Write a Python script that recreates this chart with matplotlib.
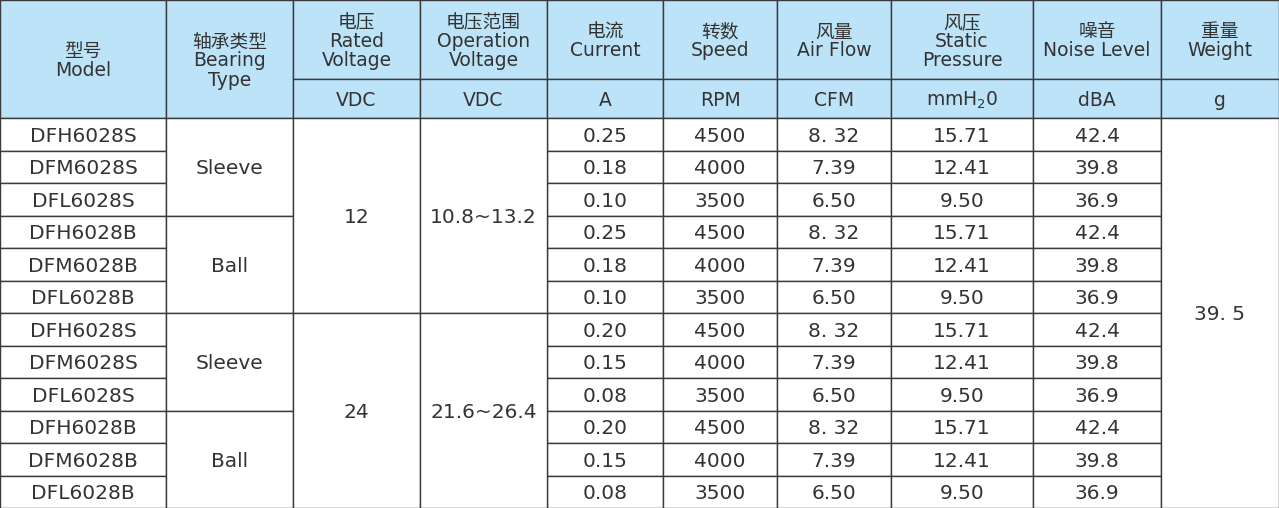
import matplotlib.pyplot as plt

plt.rcParams['font.family'] = ['DejaVu Sans', 'Noto Sans CJK SC']

# table data
header_top = ['型号\nModel', '轴承类型\nBearing\nType', '电压\nRated\nVoltage', '电压范围\nOperation\nVoltage',
              '电流\nCurrent', '转数\nSpeed', '风量\nAir Flow', '风压\nStatic\nPressure', '噪音\nNoise Level', '重量\nWeight']
units = ['VDC', 'VDC', 'A', 'RPM', 'CFM', 'mmH$_2$0', 'dBA', 'g']
models = ['DFH6028S', 'DFM6028S', 'DFL6028S', 'DFH6028B', 'DFM6028B', 'DFL6028B',
          'DFH6028S', 'DFM6028S', 'DFL6028S', 'DFH6028B', 'DFM6028B', 'DFL6028B']
bearing = ['Sleeve', 'Ball', 'Sleeve', 'Ball']
rated = ['12', '24']
op_range = ['10.8~13.2', '21.6~26.4']
current = ['0.25', '0.18', '0.10', '0.25', '0.18', '0.10', '0.20', '0.15', '0.08', '0.20', '0.15', '0.08']
speed = ['4500', '4000', '3500'] * 4
airflow = ['8. 32', '7.39', '6.50'] * 4
pressure = ['15.71', '12.41', '9.50'] * 4
noise = ['42.4', '39.8', '36.9'] * 4
weight = '39. 5'

# layout (pixels)
cols = [0, 166, 293, 420, 547, 663, 777, 891, 1033, 1161, 1279]
y_h1, y_h2, y_d = 0, 79, 118
rh = (508 - y_d) / 12
HDR = '#bde3f8'
LINE = '#3a3a3a'
TXT = '#333333'

fig = plt.figure(figsize=(12.79, 5.08), dpi=100)
ax = fig.add_axes([0, 0, 1, 1])
ax.set_xlim(0, 1279)
ax.set_ylim(508, 0)
ax.axis('off')

def cell(x0, x1, y0, y1, text, fill='white', size=14, ls=1.0, dy=2):
    ax.add_patch(plt.Rectangle((x0, y0), x1 - x0, y1 - y0, facecolor=fill, edgecolor=LINE, lw=1.0))
    ax.text((x0 + x1) / 2, (y0 + y1) / 2 + dy, text, ha='center', va='center', fontsize=size,
            color=TXT, linespacing=ls)

# header
for i, t in enumerate(header_top):
    if i in (0, 1):
        cell(cols[i], cols[i + 1], y_h1, y_d, t, HDR, 13.5, 1.0)
    else:
        cell(cols[i], cols[i + 1], y_h1, y_h2, t, HDR, 13.5, 1.0)
for i, u in enumerate(units):
    cell(cols[i + 2], cols[i + 3], y_h2, y_d, u, HDR, 13.5)

# body
def ry(r):
    return y_d + r * rh

for r in range(12):
    cell(cols[0], cols[1], ry(r), ry(r + 1), models[r], size=14.5)
    cell(cols[4], cols[5], ry(r), ry(r + 1), current[r], size=14.5)
    cell(cols[5], cols[6], ry(r), ry(r + 1), speed[r], size=14.5)
    cell(cols[6], cols[7], ry(r), ry(r + 1), airflow[r], size=14.5)
    cell(cols[7], cols[8], ry(r), ry(r + 1), pressure[r], size=14.5)
    cell(cols[8], cols[9], ry(r), ry(r + 1), noise[r], size=14.5)
for k, b in enumerate(bearing):
    cell(cols[1], cols[2], ry(3 * k), ry(3 * k + 3), b, size=14.5)
for k in range(2):
    cell(cols[2], cols[3], ry(6 * k), ry(6 * k + 6), rated[k], size=14.5)
    cell(cols[3], cols[4], ry(6 * k), ry(6 * k + 6), op_range[k], size=14.5)
cell(cols[9], cols[10], ry(0), ry(12), weight, size=14.5)

fig.savefig('out.png', dpi=100)
